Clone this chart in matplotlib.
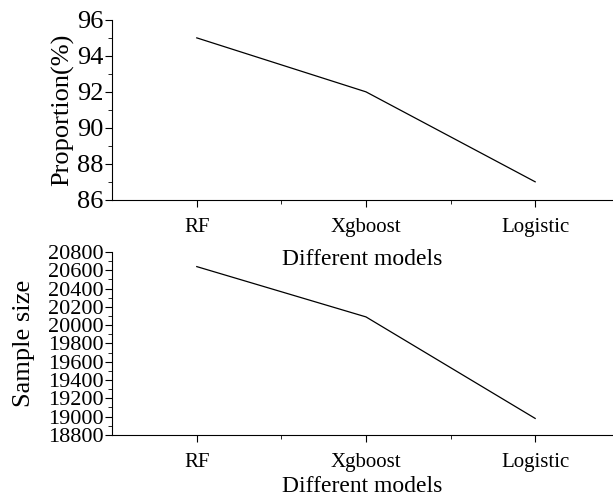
import numpy as np
import matplotlib.pyplot as plt

plt.rcParams['font.family'] = 'Liberation Serif'

# data
models = ['RF', 'Xgboost', 'Logistic']
proportion = [95, 92, 87]
sample_size = [20640, 20090, 18980]

x = np.arange(1, len(models) + 1)

fig = plt.figure(figsize=(6.13, 4.97), dpi=100)
ax1 = fig.add_axes([0.183, 0.598, 0.817, 0.362])
ax2 = fig.add_axes([0.183, 0.125, 0.817, 0.368])
ax1.set_zorder(2)  # keep the upper x label visible over the lower panel

def style(ax, ytick_size):
    ax.spines['top'].set_visible(False)
    ax.spines['right'].set_visible(False)
    ax.set_xlim(0.5, 3.46)
    ax.set_xticks(x)
    ax.set_xticklabels(models)
    ax.set_xticks(x[:-1] + 0.5, minor=True)
    ax.tick_params(axis='both', which='major', direction='out', length=5)
    ax.tick_params(axis='y', which='major', labelsize=ytick_size, pad=1)
    ax.tick_params(axis='x', which='major', labelsize=15, pad=8)
    ax.tick_params(axis='both', which='minor', direction='out', length=3)

# top panel
ax1.plot(x, proportion, color='black', lw=0.9)
style(ax1, 19)
ax1.set_ylim(86, 96)
ax1.set_yticks(np.arange(86, 97, 2))
ax1.set_yticks(np.arange(87, 96, 2), minor=True)
ax1.set_ylabel('Proportion(%)', fontsize=19, labelpad=2)
ax1.set_xlabel('Different models', fontsize=17, labelpad=8.5)

# bottom panel
ax2.plot(x, sample_size, color='black', lw=0.9)
style(ax2, 16)
ax2.set_ylim(18800, 20800)
ax2.set_yticks(np.arange(18800, 20801, 200))
ax2.set_yticks(np.arange(18900, 20800, 200), minor=True)
ax2.set_ylabel('Sample size', fontsize=19)
ax2.yaxis.set_label_coords(-0.155, 0.5)
ax2.set_xlabel('Different models', fontsize=17, labelpad=3)

fig.savefig('out.png', dpi=100)
